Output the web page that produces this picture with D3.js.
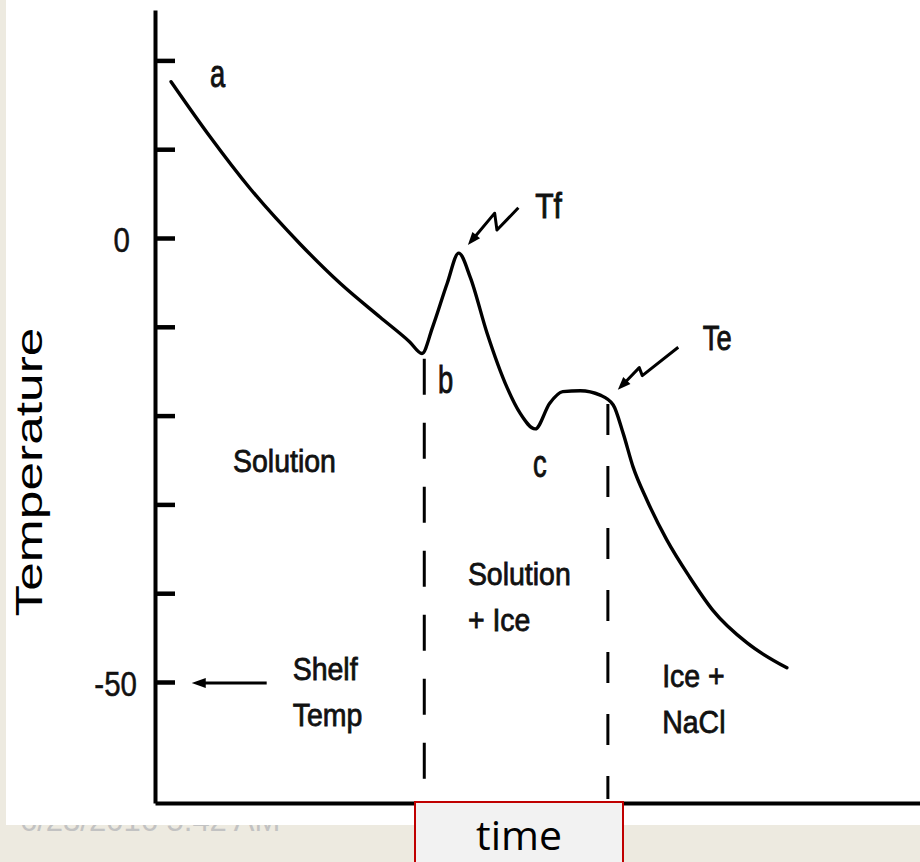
<!DOCTYPE html>
<html><head><meta charset="utf-8">
<script src="https://cdn.jsdelivr.net/npm/d3@7"></script>
<style>html,body{margin:0;padding:0;background:#EDEAE0;overflow:hidden} svg{display:block}</style>
</head><body><svg id="c" width="920" height="862"></svg>
<script>
// ---- data (time in arbitrary units, temperature in °C) ----
const timePoints = [2.1, 7.2, 12.4, 19.0, 24.2, 29.4, 33.3, 34.9, 36.3, 38.2, 39.7, 41.2, 43.4, 46.0, 47.7, 49.7, 51.6, 53.3, 55.6, 58.2, 59.9, 61.2, 62.5, 64.3, 66.9, 69.9, 72.9, 77.4, 82.6];
const tempValues = [17.6, 11.4, 5.6, -0.7, -5.1, -8.9, -11.7, -13.0, -10.0, -5.1, -1.7, -4.4, -10.7, -16.8, -19.7, -21.5, -18.6, -17.3, -17.2, -17.7, -18.8, -22.0, -25.8, -29.5, -34.0, -38.2, -41.9, -45.6, -48.4];
const yTickValues = [20, 10, 0, -10, -20, -30, -40, -50];
const yTickLabels = {"0": "0", "-50": "-50"};
const boundaryTimes = [35.2, 59.2];
const boundaryTops = [-13.6, -18.7];
const pointLabels = ["a", "b", "c", "Tf", "Te"];
const pointLabelT = [7.2, 37.0, 49.4, 49.7, 71.6];
const pointLabelV = [17.0, -17.5, -26.9, 2.3, -12.6];
const regionLines = [["Solution"], ["Solution", "+ Ice"], ["Shelf", "Temp"], ["Ice +", "NaCl"]];
const regionT = [10.2, 40.9, 18.0, 66.3];
const regionV = [-26.4, -39.1, -49.8, -50.6];
const tfArrow = [[47.5, 3.4], [44.7, 0.9], [44.4, 2.8], [40.9, -0.8]];
const teArrow = [[68.4, -12.3], [63.7, -15.5], [63.3, -14.6], [60.5, -17.1]];
const shelfArrow = [[14.6, -50.1], [4.8, -50.1]];
const yTitle = "Temperature";
const xTitle = "time";
const footerDate = "6/23/2016 5:42 AM";

const svg = d3.select("#c");
const W = 920, H = 862;
const font = "'Liberation Sans', Arial, Helvetica, sans-serif";

// scales
const x = d3.scaleLinear().domain([0, 100]).range([155, 920]);
const y0 = d3.scaleLinear().domain([-50, 0]).range([682, 238]);
const y = d3.scaleLinear().domain([y0.invert(803), y0.invert(10)]).range([803, 10]);

// footer date (partly hidden under white panel)
svg.append("text").attr("x", 20).attr("y", 831).attr("font-family", font)
  .attr("font-size", 31).attr("fill", "#c2c2c2").text(footerDate);

// white slide panel
svg.append("rect").attr("x", 6).attr("y", 0).attr("width", W - 6).attr("height", 825).attr("fill", "#fff");

// y axis
const yAxis = d3.axisLeft(y).tickValues(yTickValues).tickSizeInner(-20).tickSizeOuter(0)
  .tickPadding(18).tickFormat(d => yTickLabels[String(d)] || "");
const gy = svg.append("g").attr("transform", `translate(${x(0)},0)`).call(yAxis);
gy.attr("color", "#000");
gy.select(".domain").attr("stroke-width", 4);
gy.selectAll(".tick line").attr("stroke-width", 4.5);
gy.selectAll(".tick text").each(function(d) {
  const t = d3.select(this);
  const off = d === 0 ? -25 : -18;
  t.attr("x", null).attr("dy", null).attr("y", 13)
   .attr("transform", `translate(${off},0) scale(0.82,1)`)
   .attr("font-family", font).attr("font-size", 36).attr("fill", "#111")
   .attr("stroke", "#111").attr("stroke-width", 0.5);
});

// x axis
const xAxis = d3.axisBottom(x).tickValues([]).tickSizeOuter(0);
const gx = svg.append("g").attr("transform", `translate(0,${y.range()[0]})`).call(xAxis);
gx.attr("color", "#000");
gx.select(".domain").attr("stroke-width", 4);

// phase boundaries (dashed)
boundaryTimes.forEach((t, i) => {
  svg.append("line").attr("x1", x(t)).attr("x2", x(t))
    .attr("y1", y(boundaryTops[i])).attr("y2", y.range()[0] - 4)
    .attr("stroke", "#000").attr("stroke-width", 3)
    .attr("stroke-dasharray", i === 0 ? "36,28" : "31,31");
});

// cooling curve
const pts = timePoints.map((t, i) => [t, tempValues[i]]);
svg.append("path").datum(pts)
  .attr("d", d3.line().x(d => x(d[0])).y(d => y(d[1])).curve(d3.curveMonotoneX))
  .attr("fill", "none").attr("stroke", "#000").attr("stroke-width", 3.4)
  .attr("stroke-linejoin", "round").attr("stroke-linecap", "round");

// arrows
function arrow(data, L, Wd) {
  const p = data.map(d => [x(d[0]), y(d[1])]);
  const tip = p[p.length - 1], prev = p[p.length - 2];
  const dx = tip[0] - prev[0], dy = tip[1] - prev[1];
  const len = Math.hypot(dx, dy), ux = dx / len, uy = dy / len;
  const bx = tip[0] - ux * L, by = tip[1] - uy * L;
  const line = p.slice(0, -1).concat([[bx + ux * 2, by + uy * 2]]);
  svg.append("path").attr("d", d3.line()(line)).attr("fill", "none")
    .attr("stroke", "#000").attr("stroke-width", 3).attr("stroke-linejoin", "round");
  svg.append("path").attr("d", d3.line()([tip, [bx - uy * Wd, by + ux * Wd], [bx + uy * Wd, by - ux * Wd]]) + "Z")
    .attr("fill", "#000");
}
arrow(tfArrow, 13, 5);
arrow(teArrow, 13, 5);
arrow(shelfArrow, 14, 5);

// point labels
const ptSize = [38, 38, 38, 35, 36];
const ptScale = [0.72, 0.72, 0.72, 0.86, 0.76];
pointLabels.forEach((s, i) => {
  svg.append("text").attr("transform", `translate(${x(pointLabelT[i])},${y(pointLabelV[i])}) scale(${ptScale[i]},1)`)
    .attr("font-family", font).attr("font-size", ptSize[i]).attr("fill", "#111")
    .attr("stroke", "#111").attr("stroke-width", 0.9).text(s);
});

// region labels
regionLines.forEach((lines, i) => {
  lines.forEach((s, j) => {
    svg.append("text").attr("transform", `translate(${x(regionT[i])},${y(regionV[i]) + j * 46}) scale(0.89,1)`)
      .attr("font-family", font).attr("font-size", 32).attr("fill", "#111")
      .attr("stroke", "#111").attr("stroke-width", 0.8).text(s);
  });
});

// y title
svg.append("text").attr("transform", "translate(42,472) rotate(-90)")
  .attr("text-anchor", "middle").attr("font-family", font).attr("font-size", 37)
  .attr("textLength", 289).attr("lengthAdjust", "spacingAndGlyphs").attr("fill", "#000").text(yTitle);

// x title box
svg.append("rect").attr("x", 415).attr("y", 802).attr("width", 208).attr("height", 70)
  .attr("fill", "#F2F2F2").attr("stroke", "#C00000").attr("stroke-width", 2);
svg.append("text").attr("x", 519).attr("y", 850).attr("text-anchor", "middle")
  .attr("font-family", "'Open Sans', Lato, sans-serif").attr("font-size", 41).attr("fill", "#000").text(xTitle);
</script></body></html>
